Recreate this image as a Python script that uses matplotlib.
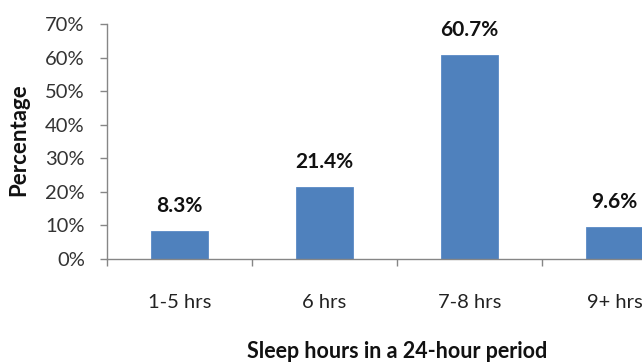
import matplotlib
matplotlib.use("Agg")
import matplotlib.pyplot as plt
from matplotlib.ticker import FixedLocator, PercentFormatter

categories = ["1-5 hrs", "6 hrs", "7-8 hrs", "9+ hrs"]
percentages = [8.3, 21.4, 60.7, 9.6]
y_ticks = [0, 10, 20, 30, 40, 50, 60, 70]

plt.rcParams["font.family"] = ["Lato", "DejaVu Sans"]

W, H = 642, 364
fig = plt.figure(figsize=(W / 100, H / 100), dpi=100)
# axes spans x 107..687 px (runs off the right edge), y 24..259 px
ax = fig.add_axes([107 / W, (H - 259) / H, 580 / W, 235 / H])

x = list(range(len(categories)))
ax.bar(x, percentages, width=0.395, color="#4F81BD", edgecolor="#5A8AC6", linewidth=0.6, zorder=2)

for xi, v in zip(x, percentages):
    ax.annotate(f"{v:.1f}%", (xi, v), xytext=(0, 18), textcoords="offset points",
                ha="center", va="center", fontsize=15, fontweight="bold", color="#111111")

ax.set_xlim(-0.5, len(categories) - 0.5)
ax.set_ylim(0, 70)
ax.set_yticks(y_ticks)
ax.yaxis.set_major_formatter(PercentFormatter(decimals=0))

ax.set_xticks(x)
ax.set_xticklabels(categories)
ax.xaxis.set_minor_locator(FixedLocator([i - 0.5 for i in range(len(categories) + 1)]))
ax.tick_params(axis="x", which="major", length=0, pad=25, labelsize=14.5, labelcolor="#222222")
ax.tick_params(axis="x", which="minor", length=5, width=1, color="#868686", direction="out")
ax.tick_params(axis="y", length=5, width=1, color="#868686", direction="out", pad=11,
               labelsize=14.5, labelcolor="#333333")

for side in ("top", "right"):
    ax.spines[side].set_visible(False)
for side in ("left", "bottom"):
    ax.spines[side].set_color("#868686")
    ax.spines[side].set_linewidth(1)

fig.text(18.5 / W, 1 - 140 / H, "Percentage", rotation=90, ha="center", va="center",
         fontsize=16, fontweight="bold", color="#111111")
fig.text(397 / W, 1 - 351 / H, "Sleep hours in a 24-hour period", ha="center", va="center",
         fontsize=15.5, fontweight="bold", color="#111111")

fig.savefig("out.png", dpi=100)
